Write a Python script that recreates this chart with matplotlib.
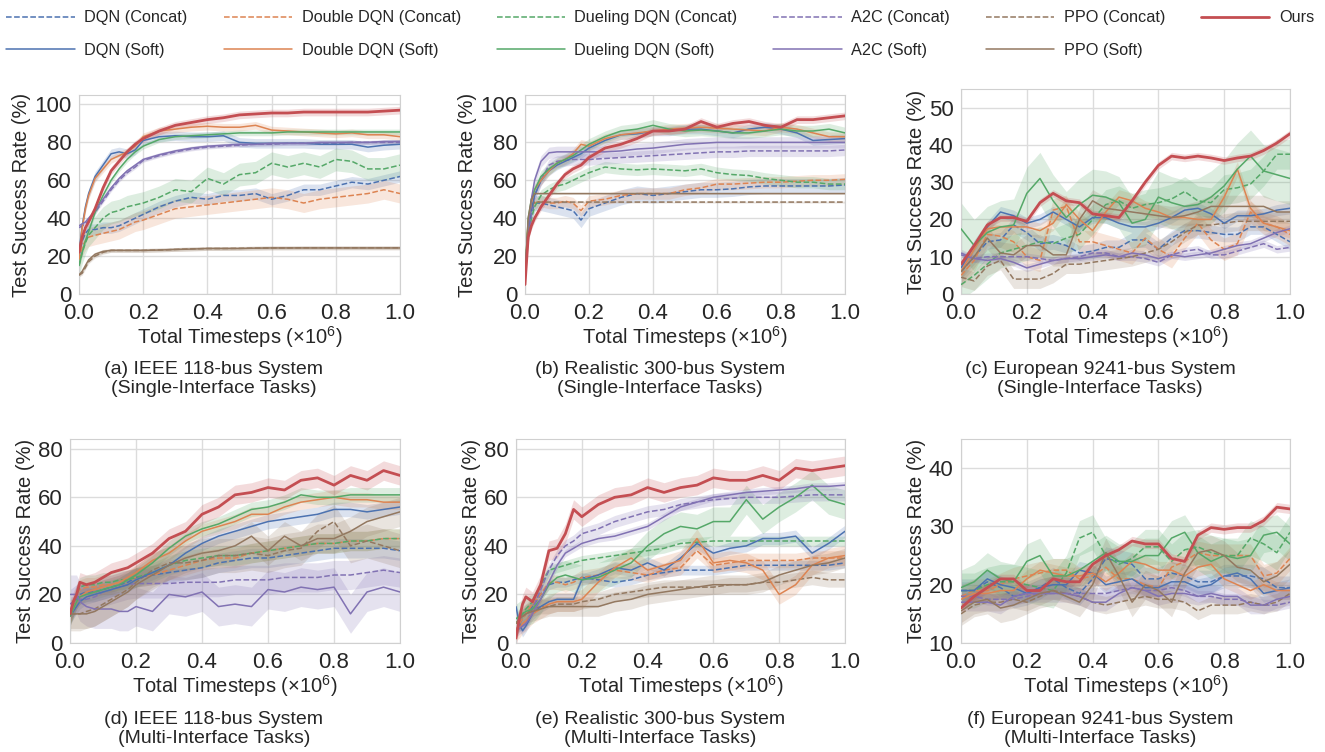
import numpy as np
import matplotlib
matplotlib.use("Agg")
import matplotlib.pyplot as plt
import seaborn as sns

sns.set_style("whitegrid")
plt.rcParams['font.family'] = ['Liberation Sans', 'DejaVu Sans']
plt.rcParams['mathtext.fontset'] = 'custom'
plt.rcParams['mathtext.rm'] = 'Liberation Sans'
plt.rcParams['mathtext.it'] = 'Liberation Sans:italic'

# x grids (x 1e6 timesteps)
X_DENSE = [0, .01, .02, .03, .05, .075, .1, .125, .15, .175, .2, .25, .3, .35,
           .4, .45, .5, .55, .6, .65, .7, .75, .8, .85, .9, .95, 1.0]
X_COARSE = [0, .04, .08, .12, .16, .2, .24, .28, .32, .36, .4, .44, .48, .52,
            .56, .6, .64, .68, .72, .76, .8, .84, .88, .92, .96, 1.0]

KEYS = ['dqn_c', 'dqn_s', 'ddqn_c', 'ddqn_s', 'duel_c', 'duel_s',
        'a2c_c', 'a2c_s', 'ppo_c', 'ppo_s', 'ours']
LABELS = ['DQN (Concat)', 'DQN (Soft)', 'Double DQN (Concat)', 'Double DQN (Soft)',
          'Dueling DQN (Concat)', 'Dueling DQN (Soft)', 'A2C (Concat)', 'A2C (Soft)',
          'PPO (Concat)', 'PPO (Soft)', 'Ours']

# (a) IEEE 118-bus, single-interface
A_MEAN = {
    'ours':   [22, 30, 35, 38, 45, 56, 65, 70, 75, 79, 82, 86, 89, 90.5, 92, 93, 94.5, 95, 95.5, 95.5, 96, 96, 96, 96, 96, 96.5, 97],
    'ddqn_s': [20, 35, 45, 52, 61, 66, 71, 73, 75, 78, 83, 86, 87, 88, 88.5, 88, 88, 89, 86.5, 86, 85.5, 85, 84.5, 85, 84, 84, 83],
    'dqn_s':  [22, 36, 46, 53, 62, 68, 74, 75, 74, 76, 81, 83, 83.5, 83, 83, 83.5, 80, 79.5, 79.5, 79.5, 79.5, 79, 79, 79, 77.5, 78.5, 79],
    'duel_s': [15, 22, 28, 33, 43, 52, 60, 66, 71, 75, 78, 81.5, 83, 83.5, 84, 84.5, 85, 85, 85, 85.5, 85.5, 85.5, 85.5, 85.5, 85.5, 85.5, 85.5],
    'a2c_s':  [36, 37, 38, 40, 44, 50, 56, 61, 65, 68, 71, 73.5, 75.5, 77, 78, 78.5, 79, 79, 79.5, 79.5, 79.5, 80, 80, 80, 80, 80.5, 80.5],
    'a2c_c':  [35, 36, 37, 39, 43, 49, 55, 60, 64, 67, 70.5, 73, 75, 76.5, 77.5, 78, 78.5, 79, 79, 79.5, 79.5, 79.5, 79.5, 80, 80, 80, 80],
    'ppo_s':  [10, 12, 15, 18, 21, 22.5, 23, 23, 23, 23, 23, 23.2, 23.5, 23.7, 24, 24, 24, 24.2, 24.3, 24.3, 24.3, 24.3, 24.3, 24.3, 24.3, 24.3, 24.3],
    'ppo_c':  [10, 11, 14, 17, 20, 22, 23, 23, 23, 23, 23, 23.2, 23.5, 23.8, 24, 24, 24.1, 24.2, 24.3, 24.3, 24.4, 24.4, 24.4, 24.4, 24.4, 24.4, 24.4],
    'duel_c': [15, 22, 27, 31, 35, 40, 43, 44, 46, 47, 48, 51, 55, 54, 61, 58, 63, 64, 69, 67, 69, 67, 71, 70, 66, 66, 68],
    'dqn_c':  [20, 28, 32, 34, 34, 35, 35, 36, 38, 40, 42, 46, 49, 51, 50, 52, 52, 53, 50, 52, 55, 55, 57, 59, 58, 60, 62],
    'ddqn_c': [18, 25, 28, 30, 31, 32, 33, 34, 36, 38, 39, 42, 45, 46, 47, 48, 49, 50, 51, 50, 48, 50, 51, 52, 53, 55, 53],
}
A_BAND = {'ours': 2, 'ddqn_s': 2, 'dqn_s': 2.5, 'duel_s': 1.5, 'a2c_s': 1, 'a2c_c': 1,
          'ppo_s': 1, 'ppo_c': 1, 'duel_c': 6, 'dqn_c': 3, 'ddqn_c': 5}

# (b) Realistic 300-bus, single-interface
B_MEAN = {
    'ours':   [5, 30, 36, 40, 46, 52, 58, 63, 66, 68, 72, 77, 79, 82, 86, 86, 87, 91, 88, 90, 91, 89, 88, 92, 92, 93, 94],
    'a2c_s':  [10, 35, 50, 60, 70, 74.5, 75, 75, 75, 75, 75, 75, 75.5, 76.5, 77, 78, 79, 79.5, 80, 80, 80, 80, 80, 80, 80, 80, 80],
    'a2c_c':  [10, 30, 42, 52, 60, 68, 70, 70.5, 71, 71, 71, 71.5, 72, 72.5, 73, 73.5, 74, 74.5, 75, 75, 75.5, 75.5, 75.5, 75.5, 75.5, 75.5, 76],
    'dqn_s':  [10, 35, 45, 52, 60, 65, 68, 70, 72, 74, 77, 81, 84, 84.5, 86, 86, 87, 87, 86, 85, 87, 88, 87, 85, 81, 81.5, 82],
    'ddqn_s': [10, 38, 48, 55, 60, 65, 69, 71, 74, 79, 78, 82, 84, 85, 86, 87, 87.5, 88, 87.5, 87, 86.5, 86, 88, 87, 85, 83, 83],
    'duel_s': [10, 40, 50, 55, 62, 66, 69, 71, 73, 76, 79, 83, 86, 87, 89, 87, 86, 86.5, 86, 85, 85, 86, 87, 86, 86, 87, 85],
    'duel_c': [8, 30, 40, 46, 52, 55, 57, 58, 60, 62, 64, 67, 66, 65.5, 66, 65.5, 65, 66, 64, 63, 62.5, 61, 60, 59, 59, 58, 58],
    'dqn_c':  [10, 35, 42, 48, 48, 47, 46, 45, 44, 39, 45, 48, 51, 53, 52, 53, 54, 55, 55, 55.5, 56.5, 57, 57, 57, 57, 57, 57.5],
    'ddqn_c': [10, 38, 45, 48, 49, 48, 48, 49, 48, 44, 49, 50, 52, 53, 53, 53, 55, 56, 58, 58, 58.5, 59, 59, 59.5, 60, 60, 60.5],
    'ppo_s':  [8, 40, 50, 53, 53, 53, 53, 53, 53, 53, 53, 53, 53, 53, 53, 53, 53, 53, 53, 53, 53, 53, 53, 53, 53, 53, 53],
    'ppo_c':  [8, 38, 46, 48.5, 48.5, 48.5, 48.5, 48.5, 48.5, 48.5, 48.5, 48.5, 48.5, 48.5, 48.5, 48.5, 48.5, 48.5, 48.5, 48.5, 48.5, 48.5, 48.5, 48.5, 48.5, 48.5, 48.5],
}
B_BAND = {'ours': 2, 'a2c_s': 3, 'a2c_c': 3, 'dqn_s': 2.5, 'ddqn_s': 2.5, 'duel_s': 3,
          'duel_c': 3, 'dqn_c': 4, 'ddqn_c': 3, 'ppo_s': 0.5, 'ppo_c': 0.5}

# (c) European 9241-bus, single-interface
C_MEAN = {
    'ours':   [8, 13, 18.5, 20.5, 20.5, 19.5, 24.5, 27, 25, 24.5, 21.5, 21, 20.5, 25, 30, 34.5, 37, 36.5, 37, 36.5, 35.8, 36.5, 37, 38.5, 40.5, 43],
    'duel_s': [17.5, 13, 16.5, 18, 18.5, 27, 31, 25, 20.5, 24, 26.5, 26, 24.5, 19, 20, 26, 24.5, 23.5, 24, 26, 29, 33.5, 37, 33, 32, 31],
    'duel_c': [2.5, 5, 8, 11, 12, 13, 14, 13.5, 15, 16, 20, 24, 25, 23, 24, 24.5, 25.5, 27.5, 25, 24.5, 28, 28.5, 29.5, 33, 37.5, 37.5],
    'dqn_s':  [7, 13, 18, 22, 21, 19, 20, 22, 20, 18, 20.5, 20.5, 19, 18, 18, 19, 20.5, 22.5, 23, 21.5, 19, 21, 21, 21.5, 22.5, 23],
    'dqn_c':  [6, 10, 14, 14.5, 18.5, 16.5, 13.5, 14, 13, 11, 11.5, 12.5, 12.5, 14.5, 14.5, 12, 15, 17, 17, 16.5, 16, 16, 18, 18, 16, 14],
    'ddqn_s': [6, 12, 17.5, 18, 18, 18, 17, 19, 24, 20, 17, 22, 26, 25, 23, 22, 20.5, 20.5, 20, 20, 26, 33.5, 23, 19, 18, 17],
    'ddqn_c': [5, 9, 16, 15.5, 14, 10, 9, 22.5, 23.5, 14, 14, 13, 12, 11, 15, 12, 10, 15, 19, 14.5, 12, 13.5, 22, 19, 18, 16],
    'a2c_s':  [10.5, 9.5, 9, 9.5, 8.5, 7, 8, 9, 9.5, 9.5, 10, 10.5, 10, 11, 10.5, 9.5, 10.5, 10, 10.5, 11, 12, 13, 13.5, 15, 16.5, 17.5],
    'a2c_c':  [11, 9.5, 10, 10, 10, 10, 9.5, 9, 9.5, 10, 11, 11, 10, 10, 9.5, 8.5, 10.5, 11.5, 12, 10.5, 10.5, 11.5, 12.5, 13.5, 12, 12.5],
    'ppo_s':  [6, 10, 15, 11, 10.5, 13, 13, 10.5, 10.5, 20, 25, 23, 22.5, 22, 21.5, 21, 20.5, 21, 22, 23.5, 23.5, 23.5, 23.5, 23.5, 22, 22],
    'ppo_c':  [4.5, 3.5, 7.5, 9, 4, 4, 4, 5.5, 8, 8, 8.5, 9, 9.5, 10, 11, 12, 14, 16.5, 18.5, 18.5, 19, 19.5, 19.5, 19.5, 19.5, 19.5],
}
C_BAND = {'ours': 1, 'duel_s': 7, 'duel_c': 4, 'dqn_s': 1.5, 'dqn_c': 2, 'ddqn_s': 2,
          'ddqn_c': 3, 'a2c_s': 1, 'a2c_c': 1, 'ppo_s': 3, 'ppo_c': 2.5}

# (d) IEEE 118-bus, multi-interface
D_MEAN = {
    'ours':   [12, 17, 20, 25, 24, 25, 27, 29, 30, 31, 33, 37, 43, 46, 53, 56, 61, 62, 64, 63, 67, 68, 65, 69, 67, 71, 69],
    'duel_s': [11, 14, 17, 19, 20, 21, 22, 23, 24, 26, 28, 33, 39, 44, 47, 49, 52, 55, 56, 58, 61, 60, 60, 61, 61, 61, 61],
    'ddqn_s': [11, 14, 17, 19, 21, 22, 23, 24, 25, 27, 29, 34, 37, 42, 46, 48, 50, 53, 53, 56, 58, 59, 60, 59, 59, 58, 58],
    'dqn_s':  [11, 13, 15, 17, 19, 20, 21, 22, 23, 24, 26, 29, 32, 37, 41, 44, 46, 48, 50, 51, 52, 53, 55, 55, 54, 55, 56],
    'ppo_s':  [12, 12, 12, 12, 12, 13, 15, 17, 19, 21, 24, 28, 32, 35, 37, 38, 40, 44, 38, 44, 40, 43, 43, 46, 50, 52, 54],
    'ppo_c':  [12, 12, 12, 12, 13, 14, 16, 18, 20, 22, 25, 30, 33, 33, 34, 36, 36, 37, 36, 38, 39, 46, 50, 40, 42, 40, 38],
    'duel_c': [11, 15, 20, 23, 24, 24, 25, 25, 26, 26, 27, 29, 32, 34, 35, 36, 36, 37, 38, 39, 40, 41, 41, 42, 42, 43, 43],
    'ddqn_c': [11, 15, 20, 22, 23, 23, 24, 24, 25, 26, 27, 28, 30, 32, 34, 35, 35, 37, 38, 39, 40, 41, 41, 42, 42, 43, 43],
    'dqn_c':  [11, 14, 18, 20, 21, 21, 22, 23, 24, 25, 27, 28, 29, 30, 31, 33, 34, 35, 35, 36, 37, 38, 39, 39, 39, 39, 38],
    'a2c_c':  [16, 17, 18, 18, 18, 19, 21, 22, 23, 24, 24.5, 24.5, 24.5, 25, 25, 25, 26, 26, 26, 27, 27, 27, 28, 28, 29, 30, 29],
    'a2c_s':  [20, 20, 20, 17, 15, 14, 14, 14, 13, 13, 15, 13, 20, 19, 21, 15, 16, 15, 22, 21, 23, 22, 23, 12, 21, 23, 21],
}
D_BAND = {'ours': 4, 'duel_s': 3, 'ddqn_s': 3, 'dqn_s': 3, 'ppo_s': 6, 'ppo_c': 7,
          'duel_c': 4, 'ddqn_c': 4, 'dqn_c': 4, 'a2c_c': 6, 'a2c_s': 8}

# (e) Realistic 300-bus, multi-interface
E_MEAN = {
    'ours':   [2, 10, 16, 19, 17, 24, 38, 39, 45, 55, 52, 57, 60, 61, 64, 62, 64, 65, 68, 67, 67, 69, 67, 72, 71, 72, 73],
    'a2c_s':  [5, 6, 7, 8, 12, 18, 25, 32, 37, 39, 41, 43, 44, 46, 48, 52, 56, 58, 60, 61, 62, 62.5, 63, 63.5, 64.5, 64.5, 65],
    'a2c_c':  [5, 6, 7, 8, 14, 22, 30, 36, 40, 42, 45, 47, 50, 52, 54, 55, 57, 58, 59, 59.5, 60, 60, 60, 60.5, 61, 61, 61],
    'duel_s': [10, 11, 12, 13, 14, 18, 24, 27, 28, 27, 26, 27, 30, 33, 40, 45, 48, 47, 50, 50, 59, 51, 56, 60, 65, 59, 57],
    'duel_c': [8, 10, 12, 14, 17, 24, 30, 31, 32, 33, 34, 35, 36, 37, 38, 39, 41, 41.5, 42, 42, 42, 42, 42, 42, 42, 42, 42],
    'dqn_s':  [15, 8, 5, 7, 12, 15, 17, 18, 18, 18, 26, 28, 31, 30, 33, 30, 35, 41, 37, 39, 40, 43, 43, 44, 37, 41, 46],
    'dqn_c':  [5, 8, 10, 12, 15, 20, 24, 25, 25, 26, 27, 26, 25, 26, 28, 29, 30, 30, 30, 31, 32, 32, 32, 32, 32, 32, 33],
    'ddqn_s': [5, 6, 8, 9, 12, 14, 16, 17, 17, 17, 18, 25, 31, 35, 30, 32, 34, 43, 33, 34, 33, 30, 20, 24, 32, 35, 36],
    'ddqn_c': [5, 8, 10, 12, 16, 20, 25, 25, 24, 25, 27, 28, 30, 29, 28, 30, 31, 38, 32, 33, 34, 34, 34, 34, 35, 35, 35],
    'ppo_s':  [8, 10, 11, 12, 13, 14, 15, 15, 15, 15, 15, 15, 17, 18, 20, 21, 22, 23, 24, 24, 24, 25, 28, 30, 32, 33, 35],
    'ppo_c':  [8, 10, 11, 12, 14, 15, 15, 16, 16, 16, 17, 18, 20, 21, 22, 23, 23, 23, 23, 24, 24, 25, 25, 26, 27, 26, 26],
}
E_BAND = {'ours': 4, 'a2c_s': 1.5, 'a2c_c': 2.5, 'duel_s': 6, 'duel_c': 2, 'dqn_s': 2.5,
          'dqn_c': 2, 'ddqn_s': 4, 'ddqn_c': 3, 'ppo_s': 4, 'ppo_c': 3}

# (f) European 9241-bus, multi-interface
F_MEAN = {
    'ours':   [16, 18, 19.5, 21, 21, 19, 19, 21, 20.5, 20.5, 23.5, 25, 26, 27.5, 27, 27, 24.5, 24, 28.5, 29.8, 29.5, 29.8, 29.8, 31, 33.3, 33],
    'duel_s': [19.5, 20.5, 22.5, 21, 20.5, 24, 25, 21.5, 21.5, 22.5, 24, 25.5, 24, 24, 25, 25, 28, 29, 25.5, 24, 25, 24.5, 25, 28.5, 29, 27],
    'duel_c': [19, 19, 20, 20.5, 20.5, 20, 19.5, 19, 22, 28, 29, 25, 23.5, 24.5, 26.5, 26.5, 24, 26, 26.5, 25.5, 25, 25, 28, 27, 25.5, 29],
    'ddqn_s': [17.5, 18.5, 18.5, 19, 19, 21, 22.5, 22, 21.5, 21.5, 22, 20.5, 22, 24, 23.5, 22.5, 22.5, 21.5, 23, 23.5, 21, 20, 19, 20, 19, 19],
    'ddqn_c': [18, 19, 19, 20, 21, 21.5, 22, 22.5, 22.5, 21, 21.5, 23, 21, 21, 20, 19.5, 23, 24, 25.5, 25, 25, 25, 25, 21.5, 22, 24.5],
    'dqn_s':  [19, 19, 21, 20, 19.5, 18.5, 19.5, 20, 20, 22.5, 22, 20, 20.5, 21, 19.5, 19.5, 20.5, 20.5, 19.5, 20, 21.5, 22, 21, 18.5, 19, 19.5],
    'dqn_c':  [19, 19, 20.5, 19.5, 18, 18.5, 19.5, 21, 19.5, 18.5, 21, 24.5, 24, 23.5, 21, 21, 22, 21.5, 20.5, 20.5, 21.5, 21.5, 21.5, 21, 19.5, 19.5],
    'a2c_s':  [17, 17, 17, 16.5, 18, 18.5, 18.5, 18.5, 18.5, 18, 17, 17, 18.5, 19.5, 19, 18, 18.5, 18.5, 18, 18.5, 18, 18, 16.5, 16.5, 17.5, 18],
    'a2c_c':  [18, 18, 17.5, 17.5, 17.5, 18, 18.5, 18.5, 18.5, 18.5, 18.5, 18.5, 19, 19.5, 19, 19, 19.5, 19, 18, 18, 17.5, 17.5, 17, 16.5, 16.5, 17],
    'ppo_s':  [15.5, 17, 17.5, 16, 16.5, 17.5, 18.5, 19, 18, 17, 20, 25.5, 21.5, 17, 20, 19, 17, 22, 25.5, 26, 25, 23, 22.5, 20.5, 21.5, 23.5],
    'ppo_c':  [15, 16.5, 17, 17, 17.5, 17, 18, 19, 18.5, 18, 17, 16.5, 17, 17.5, 18, 17.5, 17.5, 17, 15.5, 16.5, 16.5, 16.5, 17, 16.5, 17, 18.5],
}
F_BAND = {'ours': 0.8, 'duel_s': 3, 'duel_c': 3, 'ddqn_s': 1.5, 'ddqn_c': 2, 'dqn_s': 1.5,
          'dqn_c': 2, 'a2c_s': 1.5, 'a2c_c': 1, 'ppo_s': 2.5, 'ppo_c': 1.5}

CAPTIONS = ["(a) IEEE 118-bus System\n(Single-Interface Tasks)",
            "(b) Realistic 300-bus System\n(Single-Interface Tasks)",
            "(c) European 9241-bus System\n(Single-Interface Tasks)",
            "(d) IEEE 118-bus System\n(Multi-Interface Tasks)",
            "(e) Realistic 300-bus System\n(Multi-Interface Tasks)",
            "(f) European 9241-bus System\n(Multi-Interface Tasks)"]

COLORS = {'dqn': '#4C72B0', 'ddqn': '#DD8452', 'duel': '#55A868',
          'a2c': '#8172B3', 'ppo': '#937860', 'ours': '#C44E52'}

W, H = 1325, 752
fig = plt.figure(figsize=(W / 100, H / 100), dpi=100)

# axes boxes in pixels: left, top, right, bottom
boxes = [(79, 95, 400, 294), (525, 95, 845, 294), (961, 89, 1290, 294),
         (70, 439, 400, 643), (516, 439, 845, 643), (961, 439, 1290, 643)]
panels = [(X_DENSE, A_MEAN, A_BAND, (0, 105), np.arange(0, 101, 20)),
          (X_DENSE, B_MEAN, B_BAND, (0, 105), np.arange(0, 101, 20)),
          (X_COARSE, C_MEAN, C_BAND, (0, 55), np.arange(0, 51, 10)),
          (X_DENSE, D_MEAN, D_BAND, (0, 84), np.arange(0, 81, 20)),
          (X_DENSE, E_MEAN, E_BAND, (0, 84), np.arange(0, 81, 20)),
          (X_COARSE, F_MEAN, F_BAND, (10, 45), np.arange(10, 41, 10))]
cap_x = [214, 660, 1100, 214, 660, 1100]
cap_y = [379, 379, 379, 729, 729, 729]

handles = {}
for i, (box, (xs, mean, band, ylim, yt)) in enumerate(zip(boxes, panels)):
    l, t, r, b = box
    ax = fig.add_axes([l / W, 1 - b / H, (r - l) / W, (b - t) / H])
    x = np.array(xs)
    for k in KEYS:
        y = np.array(mean[k], dtype=float)
        algo = k.split('_')[0]
        c = COLORS[algo]
        if k == 'ours':
            ls, lw, z = '-', 2.0, 5
        elif k.endswith('_c'):
            ls, lw, z = '--', 1.1, 3
        else:
            ls, lw, z = '-', 1.1, 4
        ax.fill_between(x, y - band[k], y + band[k], color=c, alpha=0.2, lw=0, zorder=1)
        ln, = ax.plot(x, y, color=c, ls=ls, lw=lw, zorder=z)
        handles[k] = ln
    ax.set_xlim(0, 1)
    ax.set_ylim(*ylim)
    ax.set_xticks(np.arange(0, 1.01, 0.2))
    ax.set_xticklabels(['%.1f' % v for v in np.arange(0, 1.01, 0.2)])
    ax.set_yticks(yt)
    ax.tick_params(axis='x', labelsize=16, pad=3)
    ax.tick_params(axis='y', labelsize=16, pad=2)
    ax.set_xlabel(r'Total Timesteps ($\times10^6$)', fontsize=14.5, labelpad=0)
    ax.set_ylabel('Test Success Rate (%)', fontsize=14.5, labelpad=2)
    ax.grid(True, color='#dcdcdc', lw=1)
    for s in ax.spines.values():
        s.set_color('#d0d0d0')
    fig.text(cap_x[i] / W, 1 - cap_y[i] / H, CAPTIONS[i], ha='center', va='center',
             fontsize=14, linespacing=1.1)

fig.legend([handles[k] for k in KEYS], LABELS, loc='upper left',
           bbox_to_anchor=(0.0, 0.995), ncol=6, frameon=False, fontsize=11.7,
           handlelength=4.2, handletextpad=0.6, columnspacing=2.2,
           labelspacing=1.1, borderaxespad=0.0)

fig.savefig('out.png', dpi=100)
